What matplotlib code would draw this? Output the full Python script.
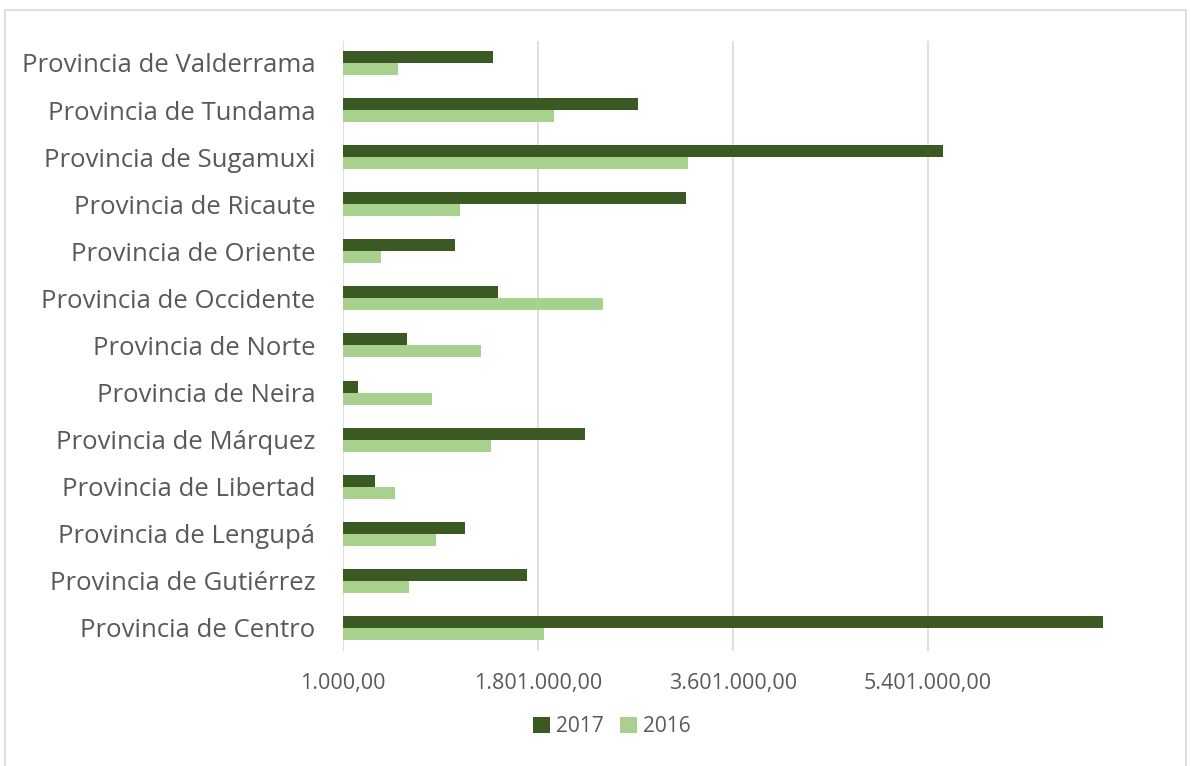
import matplotlib.pyplot as plt
import numpy as np
from matplotlib.patches import Rectangle

plt.rcParams['font.family'] = ['Open Sans', 'DejaVu Sans']

provincias = ["Provincia de Centro", "Provincia de Gutiérrez", "Provincia de Lengupá",
              "Provincia de Libertad", "Provincia de Márquez", "Provincia de Neira",
              "Provincia de Norte", "Provincia de Occidente", "Provincia de Oriente",
              "Provincia de Ricaute", "Provincia de Sugamuxi", "Provincia de Tundama",
              "Provincia de Valderrama"]
valores_2017 = [7016000, 1699000, 1127000, 296000, 2235000, 139000, 592000,
                1432000, 1035000, 3167000, 5539000, 2724000, 1386000]
valores_2016 = [1856000, 610000, 859000, 481000, 1367000, 823000, 1275000,
                2401000, 352000, 1081000, 3186000, 1949000, 509000]
ticks = [1000, 1801000, 3601000, 5401000]
tick_labels = ["1.000,00", "1.801.000,00", "3.601.000,00", "5.401.000,00"]

gris = "#595959"
fig = plt.figure(figsize=(11.91, 7.66), dpi=100)
fig.patches.append(Rectangle((5 / 1191, -0.01), 1181 / 1191, 1 - 10 / 766 + 0.01,
                             transform=fig.transFigure, fill=False,
                             edgecolor="#d9d9d9", linewidth=1.2))
ax = fig.add_axes([0.288, 0.1501, 0.6503, 0.7966])

y = np.arange(len(provincias))
h = 0.255
base = 1000
ax.barh(y + h / 2, np.array(valores_2017) - base, height=h, left=base,
        color="#3b5a23", label="2017", zorder=3)
ax.barh(y - h / 2, np.array(valores_2016) - base, height=h, left=base,
        color="#a9d18e", label="2016", zorder=3)

ax.set_xlim(base, 7150000)
ax.set_ylim(-0.49, 12.47)
ax.set_xticks(ticks)
ax.set_xticklabels(tick_labels, color=gris, fontsize=15.5)
ax.set_yticks(y)
ax.set_yticklabels(provincias, color=gris, fontsize=18.5)
ax.tick_params(axis="both", length=0)
ax.tick_params(axis="x", pad=16)
ax.tick_params(axis="y", pad=20)
ax.grid(axis="x", color="#d9d9d9", linewidth=1.2, zorder=0)
for s in ax.spines.values():
    s.set_visible(False)

ax.legend(loc="center", bbox_to_anchor=(612 / 1191, 1 - 727 / 766),
          bbox_transform=fig.transFigure, ncol=2, frameon=False,
          fontsize=15, labelcolor=gris, handlelength=0.8, handleheight=0.8,
          handletextpad=0.3, columnspacing=0.8)

fig.savefig("out.png", dpi=100)
